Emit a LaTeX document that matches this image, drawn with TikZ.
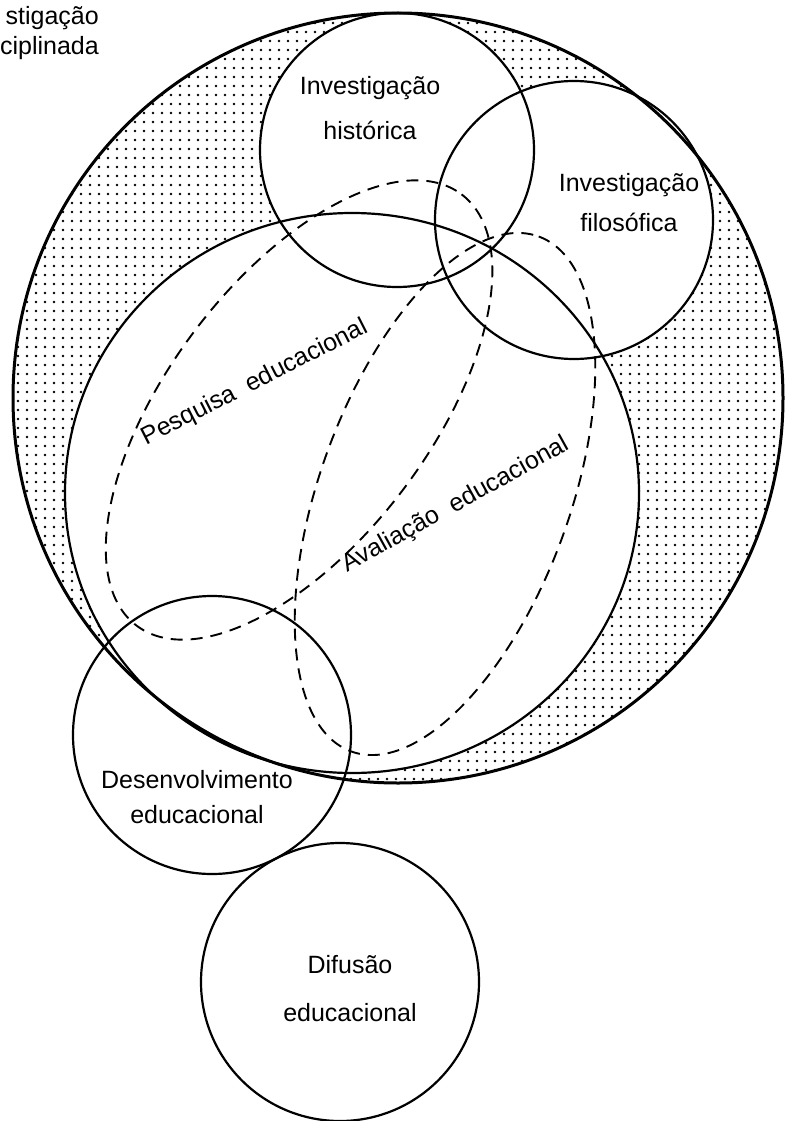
\documentclass[tikz,border=0pt]{standalone}
\usepackage{fontspec}
\setmainfont{Liberation Sans}
\usepackage{tikz}
\usetikzlibrary{patterns.meta}

\begin{document}
\begin{tikzpicture}[
                x=1pt, y=-1pt,
                font=\fontsize{25}{30}\selectfont,
                ring/.style={line width=2.2pt},
                bigring/.style={line width=3pt},
                dashring/.style={line width=1.9pt, dash pattern=on 12pt off 8pt},
                dotfill/.style={pattern={Dots[distance=9pt, radius=1.4pt]}},
                lbl/.style={align=center, inner sep=0pt},
            ]
            \useasboundingbox (0,0) rectangle (789,1121);

            % ----- centres -----
            \coordinate (cout)  at (398,398);
            \coordinate (cin)   at (352,493);
            \coordinate (chist) at (397,150);
            \coordinate (cfilo) at (574,220);
            \coordinate (cdev)  at (212,735);
            \coordinate (cdif)  at (340,982);
            \coordinate (cpesq) at (299,410);
            \coordinate (caval) at (445,494);

            % ----- dotted ring (disciplined inquiry) -----
            \fill[dotfill] (cout) circle (385);
            \fill[white] (cin) ellipse [x radius=287, y radius=280];
            \fill[white] (chist) circle (137);
            \fill[white] (cfilo) circle (139);
            \fill[white] (cdev) circle (139);

            % ----- outlines -----
            \draw[bigring] (cout) circle (385);
            \draw[ring] (cin) ellipse [x radius=287, y radius=280];
            \draw[ring] (chist) circle (137);
            \draw[ring] (cfilo) circle (139);
            \draw[ring] (cdev) circle (139);
            \draw[ring] (cdif) circle (139);

            % research and evaluation
            \draw[dashring, rotate around={53:(cpesq)}] (cpesq) ellipse [x radius=270, y radius=131];
            \draw[dashring, rotate around={70:(caval)}] (caval) ellipse [x radius=274, y radius=125];

            % ----- labels -----
            \node[lbl, anchor=east, align=right] (disc) at (99,33) {stigação\\ciplinada};
            \node[lbl] (hist) at (370,108) {Investigação\\[15pt]histórica};
            \node[lbl] (filo) at (629,203) {Investigação\\[10pt]filosófica};
            \node[lbl, rotate=27] (pesq) at (255,383) {Pesquisa\ \ educacional};
            \node[lbl, rotate=29] (aval) at (456,505) {Avaliação\ \ educacional};
            \node[lbl] (dev) at (197,797) {Desenvolvimento\\[5pt]educacional};
            \node[lbl] (dif) at (350,989) {Difusão\\[18pt]educacional};

            \end{tikzpicture}
\end{document}
